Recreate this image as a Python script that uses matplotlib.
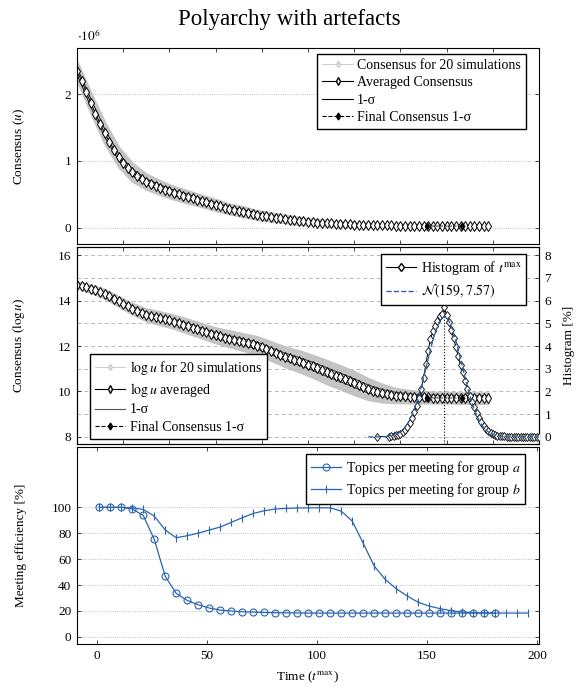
import numpy as np
import matplotlib.pyplot as plt
from matplotlib.lines import Line2D

plt.rcParams['font.family'] = ['Liberation Serif', 'DejaVu Serif']
plt.rcParams['mathtext.fontset'] = 'stix'
plt.rcParams['font.size'] = 9.5
plt.rcParams['xtick.direction'] = 'in'
plt.rcParams['ytick.direction'] = 'in'
plt.rcParams['xtick.major.size'] = 3
plt.rcParams['ytick.major.size'] = 3
plt.rcParams['xtick.minor.size'] = 0
plt.rcParams['ytick.minor.size'] = 0
plt.rcParams['axes.linewidth'] = 0.8

# ---------------- data ----------------
# time steps of the consensus runs (every 2nd step)
t_cons = np.arange(0, 179, 2)

# averaged consensus u (x 10^6)
cons_mean = [2.35, 2.20, 2.03, 1.87, 1.71, 1.56, 1.42, 1.29, 1.17, 1.06,
             0.97, 0.89, 0.83, 0.78, 0.73, 0.69, 0.66, 0.63, 0.60, 0.57,
             0.55, 0.52, 0.50, 0.48, 0.46, 0.44, 0.42, 0.40, 0.38, 0.36,
             0.34, 0.32, 0.30, 0.28, 0.27, 0.25, 0.24, 0.22, 0.21, 0.19,
             0.18, 0.17, 0.16, 0.15, 0.14, 0.13, 0.12, 0.11, 0.10, 0.095,
             0.088, 0.082, 0.076, 0.071, 0.066, 0.062, 0.058, 0.054, 0.051, 0.048,
             0.045, 0.043, 0.041, 0.039, 0.037, 0.035, 0.034, 0.033, 0.032, 0.031,
             0.030, 0.029, 0.028, 0.027, 0.027, 0.026, 0.026, 0.025, 0.025, 0.025,
             0.024, 0.024, 0.024, 0.024, 0.023, 0.023, 0.023, 0.023, 0.023, 0.023]

# averaged log u
log_mean = [14.70, 14.64, 14.58, 14.52, 14.46, 14.39, 14.30, 14.20, 14.08, 13.96,
            13.85, 13.74, 13.64, 13.54, 13.45, 13.37, 13.31, 13.26, 13.22, 13.17,
            13.13, 13.07, 13.00, 12.94, 12.87, 12.80, 12.74, 12.67, 12.60, 12.54,
            12.47, 12.42, 12.37, 12.32, 12.27, 12.22, 12.17, 12.12, 12.07, 12.02,
            11.96, 11.87, 11.78, 11.69, 11.60, 11.53, 11.46, 11.40, 11.33, 11.26,
            11.18, 11.11, 11.03, 10.94, 10.86, 10.78, 10.70, 10.62, 10.54, 10.46,
            10.37, 10.28, 10.19, 10.11, 10.04, 9.98, 9.93, 9.89, 9.85, 9.82,
            9.80, 9.78, 9.77, 9.76, 9.75, 9.74, 9.74, 9.73, 9.73, 9.73,
            9.72, 9.72, 9.72, 9.72, 9.71, 9.71, 9.71, 9.71, 9.71, 9.71]

# spread of the 20 simulations and 1-sigma, every 3rd stored step (+ last one)
band_idx = np.r_[0:90:3, 89]
cons_spread = [0.13, 0.14, 0.15, 0.14, 0.13, 0.11, 0.10, 0.09, 0.09, 0.08,
               0.08, 0.07, 0.07, 0.06, 0.06, 0.05, 0.05, 0.04, 0.04, 0.035,
               0.03, 0.03, 0.025, 0.025, 0.02, 0.02, 0.02, 0.02, 0.02, 0.02, 0.02]
cons_sigma = [0.05, 0.06, 0.06, 0.05, 0.05, 0.04, 0.04, 0.04, 0.04, 0.035,
              0.035, 0.03, 0.03, 0.03, 0.025, 0.025, 0.02, 0.02, 0.02, 0.015,
              0.015, 0.012, 0.01, 0.01, 0.01, 0.008, 0.008, 0.008, 0.008, 0.008, 0.008]
log_spread = [0.12, 0.15, 0.18, 0.20, 0.22, 0.25, 0.27, 0.28, 0.30, 0.30,
              0.32, 0.34, 0.36, 0.38, 0.40, 0.42, 0.45, 0.47, 0.50, 0.50,
              0.50, 0.45, 0.38, 0.30, 0.26, 0.24, 0.22, 0.22, 0.22, 0.22, 0.22]
log_sigma = [0.06, 0.07, 0.08, 0.09, 0.10, 0.10, 0.11, 0.11, 0.12, 0.12,
             0.13, 0.13, 0.14, 0.15, 0.15, 0.16, 0.17, 0.18, 0.19, 0.19,
             0.19, 0.18, 0.16, 0.14, 0.12, 0.11, 0.10, 0.10, 0.10, 0.10, 0.10]

# final consensus time: mean and std of t_max
t_mu, t_sd = 159, 7.57

# histogram of t_max [%]
hist_t = [130] + list(range(135, 201))
hist_pct = [0.02,
            0.02, 0.03, 0.05, 0.07, 0.10, 0.15, 0.22, 0.32, 0.45, 0.62,
            0.85, 1.10, 1.38, 1.70, 2.10, 2.60, 3.20, 3.80, 4.30, 4.65,
            4.90, 5.10, 5.30, 5.40, 5.70, 5.35, 5.05, 4.70, 4.35, 3.95,
            3.55, 3.15, 2.85, 2.45, 2.10, 1.80, 1.55, 1.30, 1.05, 0.85,
            0.65, 0.48, 0.35, 0.25, 0.18, 0.12, 0.08, 0.06, 0.04, 0.03,
            0.03, 0.02, 0.02, 0.02, 0.01, 0.01, 0.01, 0.01, 0.01, 0.01,
            0.01, 0.01, 0.01, 0.01, 0.01, 0.01]

# meeting efficiency [%]
t_meet = np.arange(1, 197, 5)
eff_a = [100, 100, 100, 98.8, 93.8, 75.3, 46.7, 33.5, 28.1, 24.7,
         22.2, 20.6, 19.9, 19.3, 19.1, 18.8, 18.6, 18.5, 18.4, 18.3,
         18.3, 18.3, 18.3, 18.3, 18.3, 18.3, 18.3, 18.3, 18.3, 18.3,
         18.3, 18.3, 18.3, 18.3, 18.3, 18.3, 18.3]
eff_b = [100, 100, 100, 99.6, 98.4, 93.3, 82.5, 76.5, 78.1, 80.1,
         82.5, 84.8, 88.4, 92.0, 95.3, 97.4, 98.7, 99.2, 99.5, 99.6,
         99.7, 99.6, 97.1, 89.4, 72.2, 54.6, 44.3, 37.1, 31.5, 26.6,
         23.7, 21.7, 20.1, 19.1, 18.6, 18.3, 18.3, 18.3, 18.3, 18.3]

gray = '#c4c4c4'
blue = '#2a64b0'

fig = plt.figure(figsize=(5.79, 6.93), dpi=100)
ax_t = fig.add_axes([0.133, 0.6475, 0.798, 0.2828])
ax_m = fig.add_axes([0.133, 0.3593, 0.798, 0.2838])
ax_b = fig.add_axes([0.133, 0.0707, 0.798, 0.2838])

fig.suptitle("Polyarchy with artefacts", fontsize=16.5, y=0.987)

leg_kw = dict(fancybox=False, edgecolor='black', framealpha=1, fontsize=10,
              handlelength=2.2, handletextpad=0.3, borderpad=0.35,
              labelspacing=0.32, borderaxespad=0)

# -------- top: consensus --------
tc = np.array(t_cons)
cm = np.array(cons_mean)
tb = tc[band_idx]
cb = cm[band_idx]
ax_t.fill_between(tb, cb - np.array(cons_spread), cb + np.array(cons_spread),
                  color=gray, lw=2, edgecolor=gray)
ax_t.plot(tb, cb + np.array(cons_sigma), color='black', lw=0.6)
ax_t.plot(tb, cb - np.array(cons_sigma), color='black', lw=0.6)
ax_t.plot(tc, cm, color='black', lw=0.6, marker='d', ms=5, mfc='white',
          mec='black', mew=0.7)
ax_t.plot([t_mu - t_sd, t_mu + t_sd], [cm[-8], cm[-5]], ls='--', color='black',
          lw=0.6, marker='d', ms=3.5, mfc='black')
ax_t.set_xlim(0, 200)
ax_t.set_ylim(-0.25, 2.69)
ax_t.set_xticks(np.arange(0, 201, 20))
ax_t.set_yticks([0, 1, 2])
ax_t.tick_params(top=True, right=True, labelbottom=False, width=0.5, pad=4)
ax_t.grid(axis='y', ls=':', color='#b0b0b0', lw=0.6)
ax_t.text(0, 1.02, r"$\cdot 10^{6}$", transform=ax_t.transAxes, ha='left', va='bottom')
ax_t.set_ylabel("Consensus ($u$)")
ax_t.yaxis.set_label_coords(-0.108, 0.5)

h_top = [Line2D([], [], color=gray, marker='d', ms=3, mfc='white', mec=gray, lw=0.6),
         Line2D([], [], color='black', marker='d', ms=4, mfc='white', mec='black', lw=0.8),
         Line2D([], [], color='black', lw=0.8),
         Line2D([], [], color='black', ls='--', marker='d', ms=3.5, mfc='black', lw=0.8)]
ax_t.legend(h_top, ["Consensus for 20 simulations", "Averaged Consensus", "1-σ",
                    "Final Consensus 1-σ"], loc='upper right',
            bbox_to_anchor=(0.971, 0.971), **leg_kw)

# -------- middle: log consensus + histogram --------
lm = np.array(log_mean)
lb = lm[band_idx]
ax_m.fill_between(tb, lb - np.array(log_spread), lb + np.array(log_spread),
                  color=gray, lw=2, edgecolor=gray)
ax_m.plot(tb, lb + np.array(log_sigma), color='#333333', lw=0.7)
ax_m.plot(tb, lb - np.array(log_sigma), color='#333333', lw=0.7)
ax_m.plot(tc, lm, color='black', lw=0.6, marker='d', ms=5, mfc='white',
          mec='black', mew=0.7)
ax_m.plot([t_mu - t_sd, t_mu + t_sd], [lm[-8], lm[-5]], ls='--', color='black',
          lw=0.6, marker='d', ms=3.5, mfc='black')
ax_m.set_xlim(0, 200)
ax_m.set_ylim(7.69, 16.34)
ax_m.set_xticks(np.arange(0, 201, 20))
ax_m.set_yticks([8, 10, 12, 14, 16])
ax_m.set_yticks(np.arange(8, 17, 1), minor=True)
ax_m.tick_params(top=True, labelbottom=False, width=0.5, pad=4)
ax_m.grid(axis='y', which='both', ls=(0, (4, 3)), color='#b8b8b8', lw=0.7)
ax_m.set_ylabel(r"Consensus ($\log u$)")
ax_m.yaxis.set_label_coords(-0.108, 0.5)

ax_h = ax_m.twinx()
ax_h.plot(hist_t, hist_pct, color='black', lw=0.7, marker='d', ms=4.5,
          mfc='white', mec='black', mew=0.6, zorder=3)
t_norm = np.arange(126, 201, 0.5)
pdf = 100 * np.exp(-0.5 * ((t_norm - t_mu) / t_sd) ** 2) / (t_sd * np.sqrt(2 * np.pi))
ax_h.plot(t_norm, pdf, color=blue, ls='--', lw=1.0, zorder=4)
ax_h.vlines(t_mu, -0.31, max(hist_pct), color='black', ls=':', lw=0.8)
ax_h.set_ylim(-0.31, 8.34)
ax_h.set_yticks(range(0, 9))
ax_h.tick_params(width=0.5, pad=4)
ax_h.set_ylabel("Histogram [%]", rotation=90)
ax_h.yaxis.set_label_coords(1.052, 0.5)

h_hist = [Line2D([], [], color='black', marker='d', ms=4.5, mfc='white', mec='black', lw=0.8),
          Line2D([], [], color=blue, ls='--', lw=1.0)]
leg_h = ax_h.legend(h_hist, [r"Histogram of $t^{\max}$", r"$\mathcal{N}(159,7.57)$"],
                    loc='upper right', bbox_to_anchor=(0.972, 0.964), **leg_kw)
h_mid = [Line2D([], [], color=gray, marker='d', ms=3, mfc='white', mec=gray, lw=0.6),
         Line2D([], [], color='black', marker='d', ms=4, mfc='white', mec='black', lw=0.8),
         Line2D([], [], color='#555555', lw=0.8),
         Line2D([], [], color='black', ls='--', marker='d', ms=3.5, mfc='black', lw=0.8)]
leg_m = ax_h.legend(h_mid, [r"$\log u$ for 20 simulations", r"$\log u$ averaged", "1-σ",
                            "Final Consensus 1-σ"], loc='lower left',
                    bbox_to_anchor=(0.028, 0.027), **leg_kw)
ax_h.add_artist(leg_h)

# -------- bottom: meeting efficiency --------
ax_b.plot(t_meet[:len(eff_a)], eff_a, color=blue, lw=0.9, marker='o', ms=5,
          mfc='none', mec=blue, mew=0.8, label="Topics per meeting for group $a$")
ax_b.plot(t_meet, eff_b, color=blue, lw=0.9, marker='|', ms=6, mew=0.8,
          label="Topics per meeting for group $b$")
ax_b.set_xlim(-9.1, 200.9)
ax_b.set_ylim(-5.6, 146.4)
ax_b.set_xticks([0, 50, 100, 150, 200])
ax_b.set_yticks(range(0, 101, 20))
ax_b.tick_params(top=True, right=True, width=0.5, pad=4)
ax_b.grid(axis='y', ls=':', color='#b0b0b0', lw=0.6)
ax_b.set_ylabel("Meeting efficiency [%]")
ax_b.yaxis.set_label_coords(-0.108, 0.5)
ax_b.set_xlabel(r"Time ($t^{\max}$)")
ax_b.xaxis.set_label_coords(0.5, -0.13)
ax_b.legend(loc='upper right', bbox_to_anchor=(0.970, 0.966), **leg_kw)

fig.savefig("out.png", dpi=100)
